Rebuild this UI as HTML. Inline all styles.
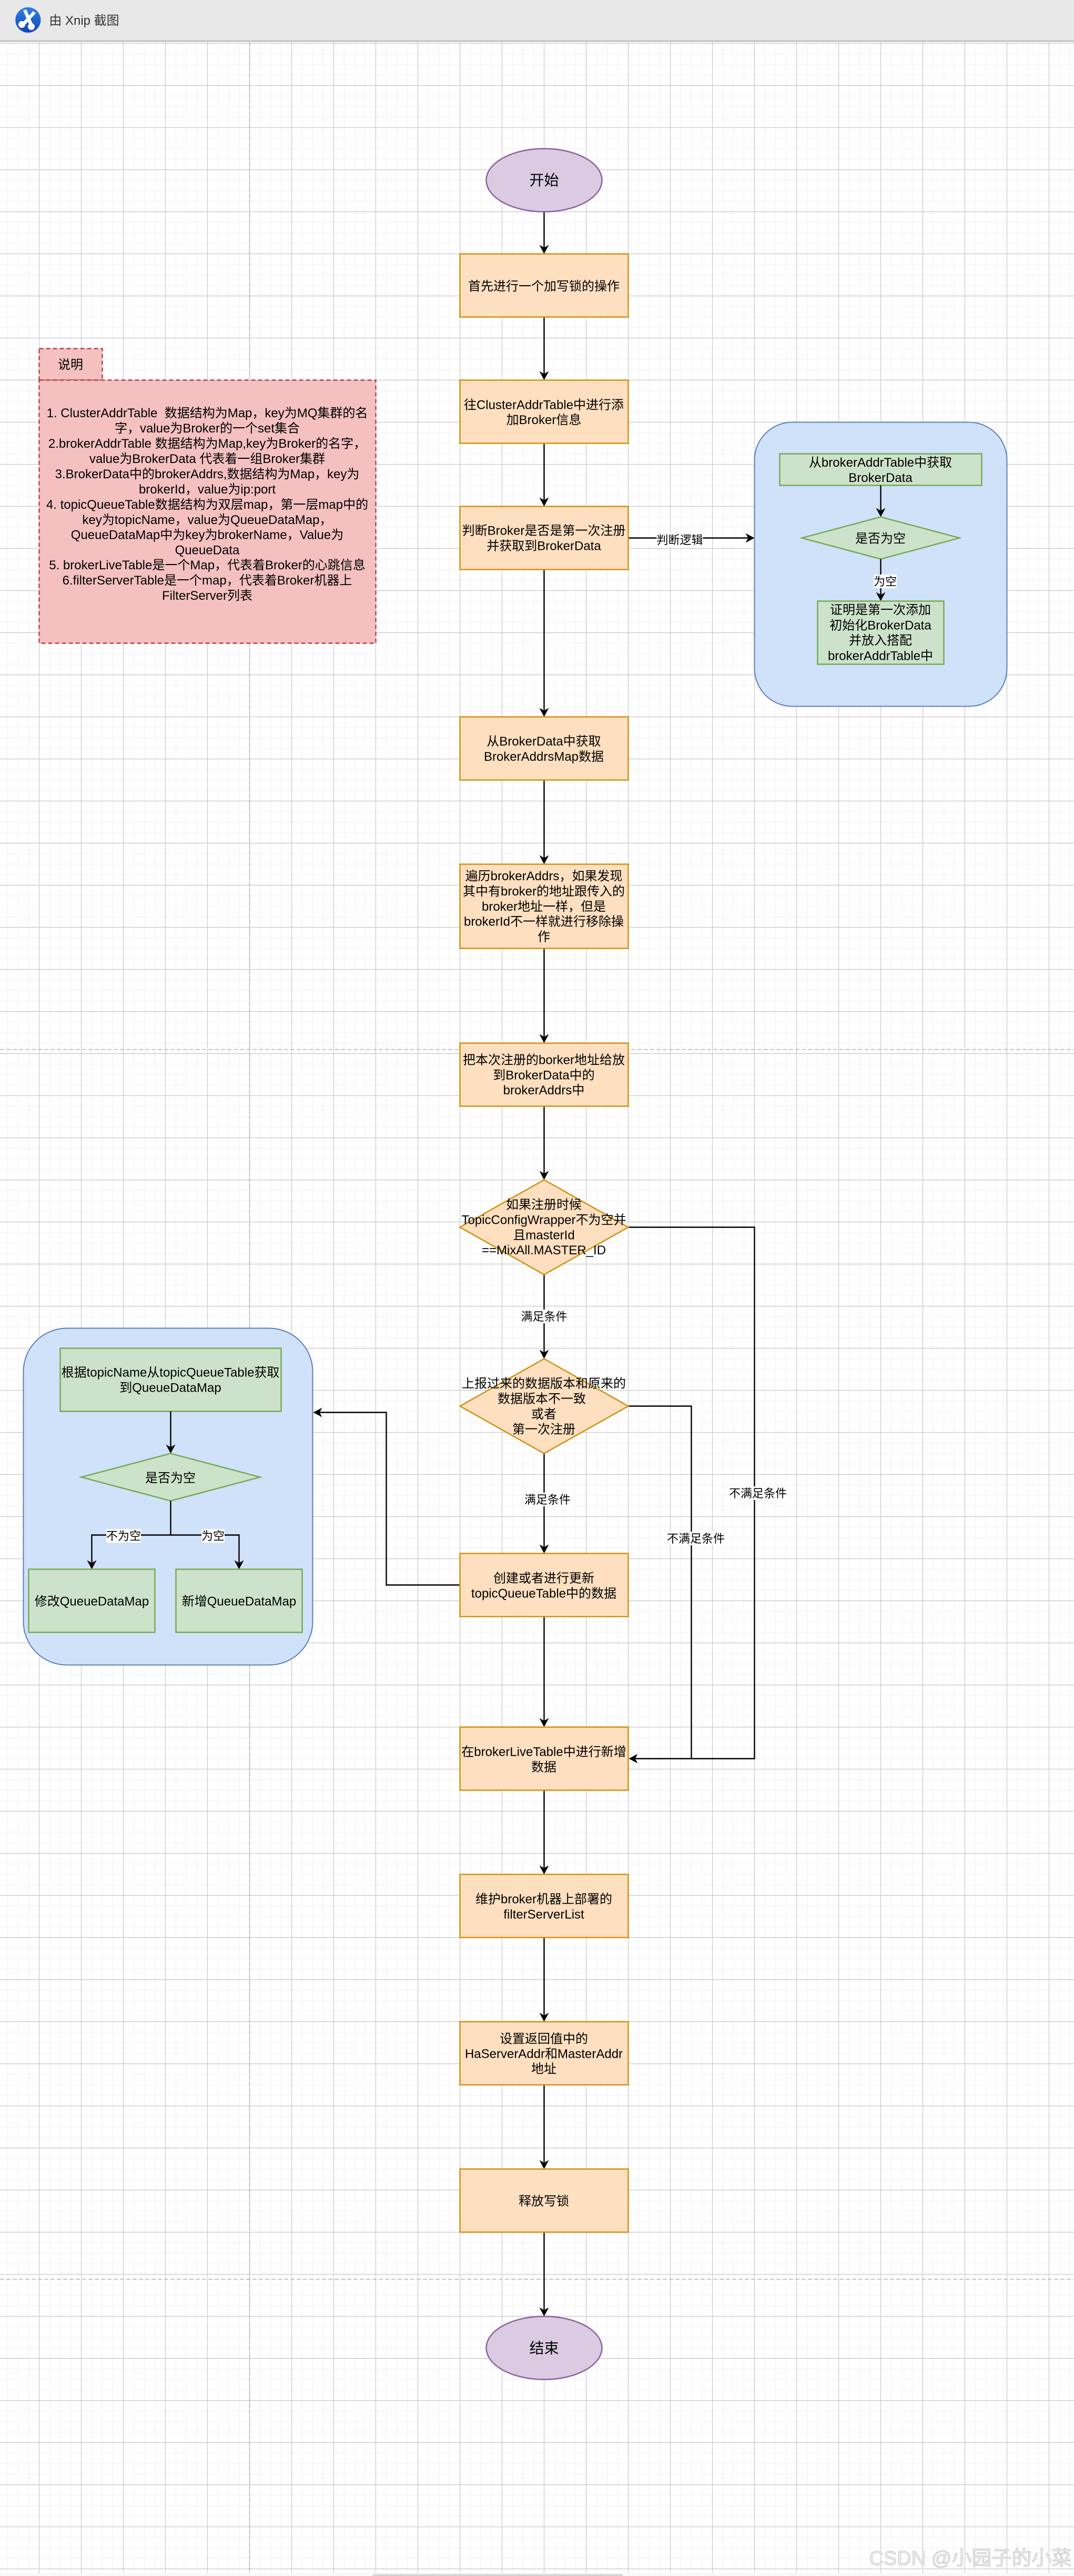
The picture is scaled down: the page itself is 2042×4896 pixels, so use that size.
<!DOCTYPE html>
<html><head><meta charset="utf-8"><style>
html,body{margin:0;padding:0;background:#fff}
svg{display:block}
text{font-family:"Liberation Sans","Noto Sans CJK SC",sans-serif;fill:#000;text-anchor:middle;font-size:24px}
.l{font-size:22px}
.box{fill:#fedfc0;stroke:#d08e0a;stroke-width:2.4}
.g{fill:#cde2ca;stroke:#70a94f;stroke-width:2.4}
.e{fill:#dacbe2;stroke:#8a5e9c;stroke-width:2.4}
.b{fill:#d0e1fa;stroke:#5b80b9;stroke-width:2}
.n{fill:#f4c0c0;stroke:#b5424a;stroke-width:2.4;stroke-dasharray:8 5}
.c{fill:none;stroke:#000;stroke-width:2.4}
</style></head><body>
<svg xmlns="http://www.w3.org/2000/svg" width="2042" height="4896" viewBox="0 0 2042 4896">
<defs>
<pattern id="grid" patternUnits="userSpaceOnUse" x="-15.5" y="-7.5" width="80" height="80">
<path d="M30 0V80M50 0V80M70 0V80M0 30H80M0 50H80M0 70H80" stroke="#f6f6f6" stroke-width="2" fill="none"/>
<path d="M10 0V80M0 10H80" stroke="#c8c8c8" stroke-width="1.2" fill="none"/>
</pattern>
<polygon id="d" points="0,0 -9,-17 0,-12 9,-17" fill="#000"/>
<polygon id="r" points="0,0 -17,-9 -12,0 -17,9" fill="#000"/>
<polygon id="lf" points="0,0 17,-9 12,0 17,9" fill="#000"/>
<linearGradient id="ic" x1="0" y1="0" x2="0" y2="1"><stop offset="0" stop-color="#2f82e4"/><stop offset="1" stop-color="#1143b4"/></linearGradient>
</defs>

<rect x="0" y="0" width="2042" height="4896" fill="#fff"/>
<rect x="0" y="80" width="2042" height="4810" fill="url(#grid)"/>
<rect x="0" y="4890" width="2042" height="6" fill="#f9f9f9"/>
<rect x="709" y="4892.5" width="475" height="3.5" fill="#d4d4d4"/>

<!-- page breaks -->
<path d="M474.6 80V4890" stroke="#b4b4b4" stroke-width="1.5" stroke-dasharray="8 4" fill="none"/>
<path d="M0 1994.6H2042M0 4332H2042" stroke="#b4b4b4" stroke-width="1.5" stroke-dasharray="8 4" fill="none"/>

<!-- header -->
<rect x="0" y="0" width="2042" height="76" fill="#e8e8e8"/>
<rect x="0" y="76" width="2042" height="4" fill="#cbcbcb"/>
<circle cx="53.3" cy="39" r="24.5" fill="#d0d0d0"/>
<circle cx="53.3" cy="37.8" r="24" fill="url(#ic)"/>
<g fill="#fff">
<polygon points="44,20 50,18 62,45 56,48"/>
<polygon points="68,25 63,21 42,44 47,48"/>
<circle cx="41.5" cy="46.5" r="6.5"/>
<circle cx="59.5" cy="50.5" r="6.5"/>
</g>
<text x="160" y="47" style="fill:#333">由 Xnip 截图</text>

<!-- connectors main -->
<path class="c" d="M1034.5 402.5V478M1034.5 602.5V718M1034.5 842.5V958M1034.5 1082.5V1358M1034.5 1482.5V1638M1034.5 1802.5V1978M1034.5 2102.5V2238M1034.5 2422.5V2578M1034.5 2762.5V2948M1034.5 3072.5V3278M1034.5 3402.5V3558M1034.5 3682.5V3838M1034.5 3962.5V4118M1034.5 4242.5V4398"/>
<path class="c" d="M1194.5 2332.5H1434.5V3342.5H1199"/>
<path class="c" d="M1194.5 2672.5H1314.5V3342.5"/>
<path class="c" d="M874.5 3012.5H734.5V2684.5H600"/>
<path class="c" d="M1194.5 1022.5H1430"/>
<use href="#d" x="1034.5" y="482.5"/><use href="#d" x="1034.5" y="722.5"/><use href="#d" x="1034.5" y="962.5"/><use href="#d" x="1034.5" y="1362.5"/><use href="#d" x="1034.5" y="1642.5"/><use href="#d" x="1034.5" y="1982.5"/><use href="#d" x="1034.5" y="2242.5"/><use href="#d" x="1034.5" y="2582.5"/><use href="#d" x="1034.5" y="2952.5"/><use href="#d" x="1034.5" y="3282.5"/><use href="#d" x="1034.5" y="3562.5"/><use href="#d" x="1034.5" y="3842.5"/><use href="#d" x="1034.5" y="4122.5"/><use href="#d" x="1034.5" y="4402.5"/>
<use href="#lf" x="1195.5" y="3342.5"/>
<use href="#lf" x="595.5" y="2684.5"/>
<use href="#r" x="1434.5" y="1022.5"/>

<!-- start / end -->
<ellipse class="e" cx="1034.5" cy="342.5" rx="110" ry="60"/>
<text x="1034.5" y="352" style="font-size:28px">开始</text>
<ellipse class="e" cx="1034.5" cy="4462.5" rx="110" ry="60"/>
<text x="1034.5" y="4472.5" style="font-size:28px">结束</text>

<!-- main boxes -->
<rect class="box" x="874.5" y="482.5" width="320" height="120"/>
<text x="1034" y="552">首先进行一个加写锁的操作</text>
<rect class="box" x="874.5" y="722.5" width="320" height="120"/>
<text x="1034" y="777.5">往ClusterAddrTable中进行添</text>
<text x="1034" y="806">加Broker信息</text>
<rect class="box" x="874.5" y="962.5" width="320" height="120"/>
<text x="1034" y="1016.5">判断Broker是否是第一次注册</text>
<text x="1034" y="1045.5">并获取到BrokerData</text>
<rect class="box" x="874.5" y="1362.5" width="320" height="120"/>
<text x="1034" y="1417">从BrokerData中获取</text>
<text x="1034" y="1446">BrokerAddrsMap数据</text>
<rect class="box" x="874.5" y="1642.5" width="320" height="160"/>
<text x="1034" y="1673">遍历brokerAddrs，如果发现</text>
<text x="1034" y="1702">其中有broker的地址跟传入的</text>
<text x="1034" y="1731">broker地址一样，但是</text>
<text x="1034" y="1759.5">brokerId不一样就进行移除操</text>
<text x="1034" y="1788.5">作</text>
<rect class="box" x="874.5" y="1982.5" width="320" height="120"/>
<text x="1034" y="2022.5">把本次注册的borker地址给放</text>
<text x="1034" y="2051.5">到BrokerData中的</text>
<text x="1034" y="2080">brokerAddrs中</text>

<polygon class="box" points="1034.5,2242.5 1194.5,2332.5 1034.5,2422.5 874.5,2332.5"/>
<text x="1034" y="2297.5">如果注册时候</text>
<text x="1034" y="2326.5">TopicConfigWrapper不为空并</text>
<text x="1034" y="2355.5">且masterId</text>
<text x="1034" y="2384">==MixAll.MASTER_ID</text>
<polygon class="box" points="1034.5,2582.5 1194.5,2672.5 1034.5,2762.5 874.5,2672.5"/>
<text x="1034" y="2637.5">上报过来的数据版本和原来的</text>
<text x="1030" y="2666.5">数据版本不一致</text>
<text x="1034" y="2695.5">或者</text>
<text x="1034" y="2724.5">第一次注册</text>

<rect class="box" x="874.5" y="2952.5" width="320" height="120"/>
<text x="1034" y="3007.5">创建或者进行更新</text>
<text x="1034" y="3036.5">topicQueueTable中的数据</text>
<rect class="box" x="874.5" y="3282.5" width="320" height="120"/>
<text x="1034" y="3337.5">在brokerLiveTable中进行新增</text>
<text x="1034" y="3366.5">数据</text>
<rect class="box" x="874.5" y="3562.5" width="320" height="120"/>
<text x="1034" y="3617.5">维护broker机器上部署的</text>
<text x="1034" y="3646.5">filterServerList</text>
<rect class="box" x="874.5" y="3842.5" width="320" height="120"/>
<text x="1034" y="3883">设置返回值中的</text>
<text x="1034" y="3911.5">HaServerAddr和MasterAddr</text>
<text x="1034" y="3940">地址</text>
<rect class="box" x="874.5" y="4122.5" width="320" height="120"/>
<text x="1034" y="4191.5">释放写锁</text>

<!-- edge labels -->
<rect x="990.5" y="2489" width="88" height="26" fill="#fff"/>
<text class="l" x="1034.5" y="2510">满足条件</text>
<rect x="997" y="2837" width="88" height="26" fill="#fff"/>
<text class="l" x="1041" y="2858">满足条件</text>
<rect x="1386" y="2825" width="110" height="26" fill="#fff"/>
<text class="l" x="1441" y="2846">不满足条件</text>
<rect x="1268" y="2911" width="110" height="26" fill="#fff"/>
<text class="l" x="1323" y="2932">不满足条件</text>
<rect x="1248.5" y="1013" width="88" height="26" fill="#fff"/>
<text class="l" x="1292.5" y="1034">判断逻辑</text>

<!-- right panel -->
<rect class="b" x="1434.5" y="802.5" width="480" height="540" rx="72" ry="72"/>
<rect class="g" x="1482.5" y="862.5" width="384" height="60"/>
<text x="1674" y="887">从brokerAddrTable中获取</text>
<text x="1674" y="916">BrokerData</text>
<path class="c" d="M1674.5 922.5V978"/>
<use href="#d" x="1674.5" y="982.5"/>
<polygon class="g" points="1674.5,982.5 1824.5,1022.5 1674.5,1062.5 1524.5,1022.5"/>
<text x="1674" y="1031.5">是否为空</text>
<path class="c" d="M1674.5 1062.5V1138"/>
<use href="#d" x="1674.5" y="1142.5"/>
<rect x="1661" y="1092" width="44" height="26" fill="#fff"/>
<text class="l" x="1683" y="1113">为空</text>
<rect class="g" x="1554.5" y="1142.5" width="240" height="120"/>
<text x="1674" y="1167">证明是第一次添加</text>
<text x="1674" y="1196.5">初始化BrokerData</text>
<text x="1674" y="1225">并放入搭配</text>
<text x="1674" y="1254.5">brokerAddrTable中</text>

<!-- left panel -->
<rect class="b" x="44.5" y="2524.5" width="550" height="640" rx="82.5" ry="82.5"/>
<rect class="g" x="114.5" y="2562.5" width="420" height="120"/>
<text x="324" y="2616.5">根据topicName从topicQueueTable获取</text>
<text x="324" y="2645.5">到QueueDataMap</text>
<path class="c" d="M324.5 2682.5V2758"/>
<use href="#d" x="324.5" y="2762.5"/>
<polygon class="g" points="324.5,2762.5 494.5,2807.5 324.5,2852.5 154.5,2807.5"/>
<text x="324" y="2817">是否为空</text>
<path class="c" d="M324.5 2852.5V2917.5M174.5 2978V2917.5H454.5V2978"/>
<use href="#d" x="174.5" y="2982.5"/>
<use href="#d" x="454.5" y="2982.5"/>
<rect x="202" y="2906" width="66" height="26" fill="#fff"/>
<text class="l" x="235" y="2927">不为空</text>
<rect x="383" y="2906" width="44" height="26" fill="#fff"/>
<text class="l" x="405" y="2927">为空</text>
<rect class="g" x="54.5" y="2982.5" width="240" height="120"/>
<text x="174.5" y="3051.5">修改QueueDataMap</text>
<rect class="g" x="334.5" y="2982.5" width="240" height="120"/>
<text x="454.5" y="3051.5">新增QueueDataMap</text>

<!-- note -->
<rect class="n" x="74.5" y="662.5" width="120" height="60"/>
<text x="134" y="701">说明</text>
<rect class="n" x="74.5" y="722.5" width="640" height="500"/>
<text x="394" y="793">1. ClusterAddrTable&#160;&#160;数据结构为Map，key为MQ集群的名</text>
<text x="394" y="822">字，value为Broker的一个set集合</text>
<text x="394" y="851">2.brokerAddrTable 数据结构为Map,key为Broker的名字，</text>
<text x="394" y="880">value为BrokerData 代表着一组Broker集群</text>
<text x="394" y="909">3.BrokerData中的brokerAddrs,数据结构为Map，key为</text>
<text x="394" y="938">brokerId，value为ip:port</text>
<text x="394" y="967">4. topicQueueTable数据结构为双层map，第一层map中的</text>
<text x="394" y="996">key为topicName，value为QueueDataMap，</text>
<text x="394" y="1024.5">QueueDataMap中为key为brokerName，Value为</text>
<text x="394" y="1053.5">QueueData</text>
<text x="394" y="1082">5. brokerLiveTable是一个Map，代表着Broker的心跳信息</text>
<text x="394" y="1111">6.filterServerTable是一个map，代表着Broker机器上</text>
<text x="394" y="1140">FilterServer列表</text>

<!-- watermark -->
<text x="1845" y="4875" style="font-size:38px;fill:#ececec;stroke:#bcbcbc;stroke-width:.8">CSDN @小园子的小菜</text>
</svg>
</body></html>
